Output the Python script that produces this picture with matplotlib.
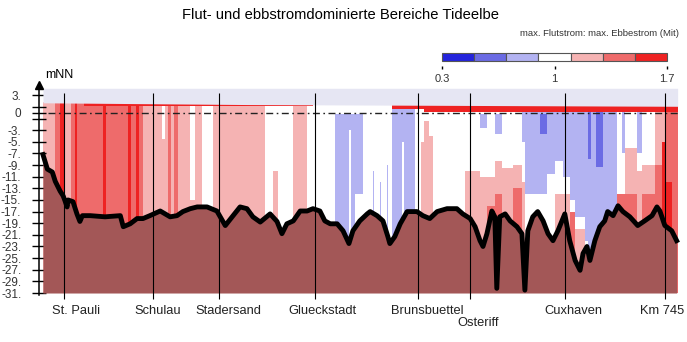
import matplotlib
matplotlib.use('Agg')
import matplotlib.pyplot as plt
import numpy as np

plt.rcParams['font.family'] = ['Liberation Sans', 'DejaVu Sans']

# ratio classes max. Flutstrom : max. Ebbestrom
class_edges = [0.3, 0.5, 0.7, 0.9, 1.1, 1.3, 1.5, 1.7]
class_colors = ['#2424DC', '#6B6BE4', '#B3B3F2', '#FFFFFF', '#F5B3B3', '#EE6B6B', '#EE2222']

# columns of the ratio field: (km from, km to, [(class, lower depth mNN), ...]) top -> down
field_cols = [
    (618.7, 621.2, [(4, -31)]),
    (621.2, 622.2, [(5, -31)]),
    (622.2, 623.2, [(6, -31)]),
    (623.2, 624.4, [(4, -31)]),
    (624.4, 625.2, [(5, -31)]),
    (625.2, 625.6, [(6, -31)]),
    (625.6, 630.9, [(5, -31)]),
    (630.9, 631.5, [(6, -31)]),
    (631.5, 636.0, [(5, -31)]),
    (636.0, 636.6, [(6, -31)]),
    (636.6, 637.6, [(5, -31)]),
    (637.6, 638.2, [(6, -31)]),
    (638.2, 639.0, [(5, -31)]),
    (639.0, 642.8, [(4, -31)]),
    (642.8, 643.5, [(3, -4.5), (4, -31)]),
    (643.5, 644.1, [(4, -31)]),
    (644.1, 644.7, [(5, -31)]),
    (644.7, 645.3, [(4, -31)]),
    (645.3, 646.1, [(5, -31)]),
    (646.1, 648.6, [(4, -31)]),
    (648.6, 649.6, [(3, -15), (4, -31)]),
    (649.6, 651.0, [(4, -31)]),
    (651.0, 653.2, [(3, -31)]),
    (653.2, 663.8, [(4, -31)]),
    (663.8, 665.4, [(3, -31)]),
    (665.4, 666.4, [(3, -10), (4, -31)]),
    (666.4, 669.5, [(3, -31)]),
    (669.5, 672.3, [(4, -31)]),
    (672.3, 678.0, [(3, -31)]),
    (678.0, 680.8, [(3, -0.2), (2, -31)]),
    (680.8, 681.2, [(3, -0.2), (2, -3), (3, -31)]),
    (681.2, 682.0, [(3, -0.2), (2, -31)]),
    (682.0, 683.6, [(3, -0.2), (2, -14), (3, -31)]),
    (683.6, 685.6, [(3, -31)]),
    (685.6, 685.9, [(3, -10), (2, -31)]),
    (685.9, 687.0, [(3, -31)]),
    (687.0, 687.3, [(3, -12), (2, -31)]),
    (687.3, 688.5, [(3, -31)]),
    (688.5, 688.8, [(3, -9), (2, -31)]),
    (688.8, 689.5, [(3, -31)]),
    (689.5, 691.6, [(2, -31)]),
    (691.6, 692.0, [(2, -5), (3, -31)]),
    (692.0, 694.2, [(2, -31)]),
    (694.2, 695.4, [(3, -31)]),
    (695.4, 696.0, [(3, -5), (4, -31)]),
    (696.0, 697.0, [(3, -1.5), (4, -31)]),
    (697.0, 697.8, [(3, -4), (4, -31)]),
    (697.8, 704.3, [(3, -31)]),
    (704.3, 707.4, [(3, -10), (4, -31)]),
    (707.4, 708.8, [(3, -0.3), (2, -2.6), (3, -11), (4, -31)]),
    (708.8, 710.4, [(3, -11), (4, -16), (5, -31)]),
    (710.4, 711.8, [(3, -0.3), (2, -3.7), (3, -8.3), (4, -14), (5, -31)]),
    (711.8, 714.1, [(3, -9.5), (4, -31)]),
    (714.1, 715.9, [(3, -9), (4, -13), (5, -31)]),
    (715.9, 716.5, [(2, -5), (3, -12), (4, -31)]),
    (716.5, 719.6, [(2, -14), (3, -31)]),
    (719.6, 721.0, [(2, -0.3), (1, -3.7), (2, -14), (3, -31)]),
    (721.0, 722.6, [(2, -10.5), (3, -31)]),
    (722.6, 724.2, [(2, -8.3), (3, -14), (4, -31)]),
    (724.2, 725.6, [(2, -11), (3, -14), (4, -31)]),
    (725.6, 726.7, [(2, -15), (3, -17), (5, -31)]),
    (726.7, 728.7, [(2, -18), (3, -20), (4, -31)]),
    (728.7, 729.3, [(2, -22), (3, -31)]),
    (729.3, 730.0, [(1, -8), (2, -31)]),
    (730.0, 730.9, [(2, -31)]),
    (730.9, 732.3, [(1, -9.4), (2, -31)]),
    (732.3, 735.2, [(2, -31)]),
    (735.2, 736.2, [(3, -14), (5, -31)]),
    (736.2, 736.8, [(2, -7), (3, -14), (5, -31)]),
    (736.8, 739.2, [(3, -6), (4, -14), (5, -31)]),
    (739.2, 740.2, [(2, -7), (3, -10), (4, -31)]),
    (740.2, 742.9, [(3, -9), (4, -14), (5, -31)]),
    (742.9, 744.3, [(4, -9), (5, -31)]),
    (744.3, 744.9, [(4, -5), (6, -31)]),
    (744.9, 746.3, [(5, -12), (6, -31)]),
    (746.3, 747.5, [(5, -31)]),
]

# red surface layer: (km from, km to, lower depth)
top_band = [(627.0, 673.5, 1.15), (689.5, 696.0, 0.7), (696.0, 747.5, 0.2)]

# water level
surface_km = [618.7, 660.0, 747.5]
surface_m = [1.7, 1.4, 1.1]

# river bed (mNN)
bed_km = [618.7, 619.6, 620.6, 621.2, 622.2, 622.8, 623.2, 623.6, 623.8, 624.8,
          625.6, 626.2, 626.7, 628.3, 631.3, 634.4, 635.0, 636.4, 637.8, 639.0,
          640.4, 642.5, 644.5, 645.9, 647.1, 648.6, 650.0, 652.0, 654.0, 655.7,
          657.1, 658.7, 660.1, 661.3, 662.8, 664.8, 666.2, 667.2, 668.2, 669.5,
          670.9, 672.3, 673.5, 674.9, 675.9, 677.0, 678.4, 679.6, 680.8, 681.6,
          683.0, 684.5, 685.1, 686.5, 687.7, 688.7, 689.1, 690.1, 691.2, 692.6,
          694.6, 695.8, 697.2, 698.7, 700.7, 702.7, 703.9, 705.4, 706.4, 707.4,
          708.0, 708.8, 709.8, 710.4, 710.8, 711.4, 712.5, 713.5, 714.9, 715.9,
          716.5, 717.1, 718.1, 719.1, 720.2, 721.2, 722.2, 723.2, 724.6, 725.6,
          726.7, 727.7, 728.3, 729.1, 729.7, 730.7, 731.7, 732.7, 733.3, 734.4,
          735.4, 736.4, 737.8, 739.4, 740.8, 742.3, 743.3, 743.9, 744.9, 746.3,
          747.3]
bed_m = [-7.2, -9.7, -10.2, -11.8, -13.5, -14.3, -15.2, -16.2, -15.0, -15.3,
         -17.4, -18.7, -17.7, -17.7, -17.9, -17.7, -19.6, -19.1, -18.2, -18.2,
         -17.7, -16.9, -17.9, -17.7, -17.0, -16.5, -16.2, -16.2, -16.9, -19.4,
         -17.9, -16.2, -16.5, -17.9, -18.8, -17.4, -18.7, -20.8, -19.1, -18.6,
         -16.9, -16.9, -16.5, -16.9, -18.6, -19.1, -19.1, -20.3, -22.5, -20.3,
         -18.6, -17.4, -17.0, -17.7, -18.6, -21.3, -22.5, -21.3, -19.1, -17.0,
         -17.0, -17.7, -18.2, -17.0, -16.5, -16.5, -17.4, -18.2, -19.6, -22.0,
         -23.0, -20.8, -16.9, -17.9, -30.2, -17.9, -17.4, -18.6, -19.6, -20.8,
         -30.5, -20.3, -17.9, -17.0, -18.6, -20.8, -22.0, -20.3, -17.4, -22.0,
         -25.4, -27.1, -24.2, -23.0, -25.4, -22.0, -19.6, -18.6, -17.0, -17.7,
         -16.0, -17.0, -17.9, -19.4, -18.6, -17.7, -16.2, -16.9, -19.4, -20.3,
         -22.0]

stations = ['St. Pauli', 'Schulau', 'Stadersand', 'Glueckstadt', 'Brunsbuettel',
            'Osteriff', 'Cuxhaven', 'Km 745']
station_km = [623.0, 641.0, 654.5, 674.0, 694.8, 705.4, 724.6, 745.0]
label_km = [625.4, 641.9, 656.3, 675.5, 696.6, 707.0, 726.4, 744.3]

ytick_vals = [3, 1, 0, -1, -3, -5, -7, -9, -11, -13, -15, -17, -19, -21,
              -23, -25, -27, -29, -31]
ytick_text = ['3.', '', '0', ''] + ['%d.' % v for v in ytick_vals[4:]]

bottom_m = -31
sky_top = 4.2
field_top = 1.9

W, H = 687, 342
fig = plt.figure(figsize=(W / 100, H / 100), dpi=100)
ax = fig.add_axes([39 / W, 42 / H, 648 / W, 220 / H])
ax.set_xlim(617.9, 749.4)
ax.set_ylim(-32.2, 5.62)

# ratio field
for k0, k1, segs in field_cols:
    top = field_top
    for c, low in segs:
        ax.bar(k0, top - low, width=k1 - k0, bottom=low, align='edge',
               color=class_colors[c], linewidth=0, antialiased=False, zorder=1)
        top = low

for k0, k1, low in top_band:
    ax.bar(k0, field_top - low, width=k1 - k0, bottom=low, align='edge',
           color=class_colors[6], linewidth=0, antialiased=False, zorder=2)

# above the water
ax.fill_between(surface_km, surface_m, sky_top, color='#E6E6F3', linewidth=0, zorder=3)

ax.plot([619.7, 748.0], [0, 0], color='#222222', lw=1, dashes=(5, 2.5, 1.2, 2.5), zorder=4)

# river bed
ax.fill_between(bed_km, bed_m, bottom_m, color='#A35757', linewidth=0, zorder=5)
ax.plot(bed_km, bed_m, color='black', lw=3.5, solid_joinstyle='round', zorder=6)

ax.vlines(station_km, -32.0, 3.4, color='black', lw=0.8, zorder=7)

for name, k in zip(stations, label_km):
    y = -36.1 if name == 'Osteriff' else -34.1
    ax.text(k, y, name, ha='center', va='center', fontsize=9.3, color='#222222')

# y axis with arrow
for s in ['top', 'right', 'bottom']:
    ax.spines[s].set_visible(False)
ax.spines['left'].set_bounds(-31.4, 4.8)
ax.spines['left'].set_linewidth(1.1)
ax.plot([617.9], [4.8], marker='^', ms=6, color='black', clip_on=False, zorder=8)
ax.text(619.1, 6.4, 'mNN', ha='left', va='center', fontsize=9, color='black')
ax.set_xticks([])
ax.set_yticks(ytick_vals, ytick_text)
ax.tick_params(axis='y', direction='inout', length=9.5, width=1, pad=8,
               labelsize=8.5, labelcolor='#333333')

fig.text(341 / W, 1 - 15 / H, 'Flut- und ebbstromdominierte Bereiche Tideelbe',
         ha='center', va='center', fontsize=10.6, color='black')
fig.text(679 / W, 1 - 34 / H, 'max. Flutstrom: max. Ebbestrom (Mit)',
         ha='right', va='center', fontsize=6.8, color='#333333')

# colour scale
cax = fig.add_axes([442 / W, 1 - 68.5 / H, 225 / W, 15.5 / H])
cax.bar(class_edges[:-1], 8, width=0.2, bottom=7.5, align='edge', color=class_colors,
        edgecolor='#555555', linewidth=0.8, clip_on=False)
cax.set_xlim(0.3, 1.7)
cax.set_ylim(0, 15.5)
for s in cax.spines.values():
    s.set_visible(False)
cax.set_yticks([])
cax.set_xticks([0.3, 1.0, 1.7], ['0.3', '1', '1.7'])
cax.tick_params(axis='x', direction='in', length=2.5, width=1, pad=4,
                labelsize=8, labelcolor='#333333')

fig.savefig('out.png', dpi=100)
